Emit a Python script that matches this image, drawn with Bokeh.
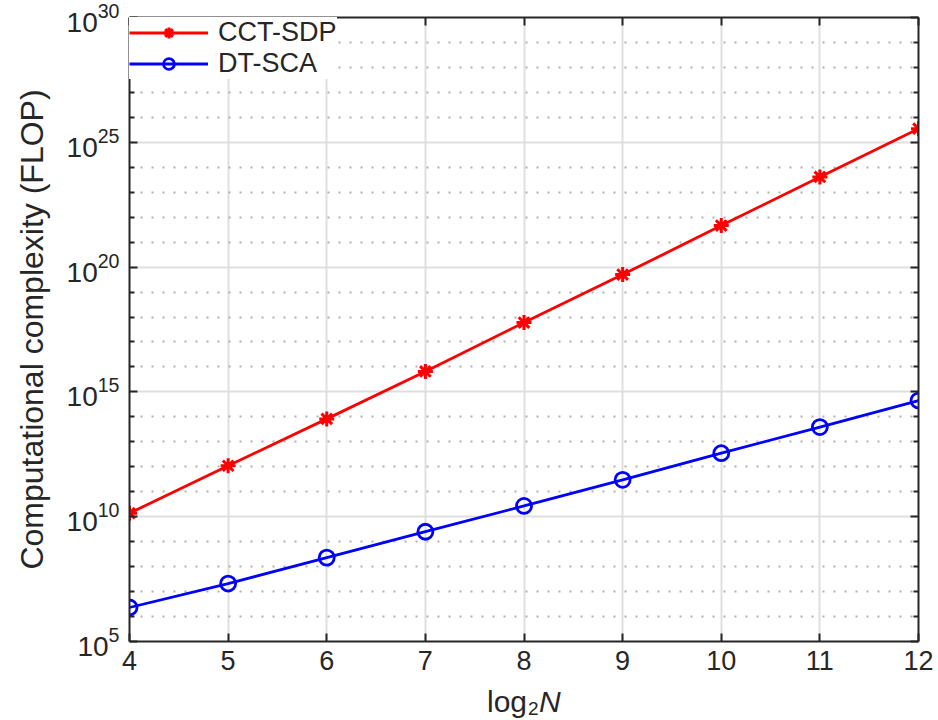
from bokeh.plotting import figure
from bokeh.layouts import column
from bokeh.models import (Range1d, FixedTicker, LogAxis, LinearAxis,
                          LogTickFormatter, CustomJSTickFormatter)
from bokeh.core.properties import value
from bokeh.embed import file_html
from bokeh.resources import INLINE

# ---- data ----
log2N = [4, 5, 6, 7, 8, 9, 10, 11, 12]
cct_sdp = [1.38e10, 1.1e12, 8.3e13, 6.6e15, 6.0e17, 5.0e19, 4.6e21, 4.1e23, 3.5e25]
dt_sca = [2.3e6, 2.1e7, 2.3e8, 2.5e9, 2.7e10, 3.0e11, 3.5e12, 3.9e13, 4.5e14]

x_ticks = [4, 5, 6, 7, 8, 9, 10, 11, 12]
y_major = [1e5, 1e10, 1e15, 1e20, 1e25, 1e30]
y_minor = [1e6, 1e7, 1e8, 1e9, 1e11, 1e12, 1e13, 1e14, 1e16, 1e17, 1e18, 1e19,
           1e21, 1e22, 1e23, 1e24, 1e26, 1e27, 1e28, 1e29]

series_names = ["CCT-SDP", "DT-SCA"]
y_label = "Computational complexity (FLOP)"
x_label_parts = ["log", "2", "N"]

FONT = "Liberation Sans"
TXT = "#262626"

p = figure(width=938, height=684,
           x_range=Range1d(4, 12), y_range=Range1d(1e5, 1e30),
           y_axis_type="log",
           output_backend="svg", toolbar_location=None,
           min_border_left=129, min_border_right=20,
           min_border_top=17, min_border_bottom=43)
p.outline_line_color = None
p.background_fill_color = "white"

xt = FixedTicker(ticks=x_ticks, minor_ticks=[])
yt = FixedTicker(ticks=y_major, minor_ticks=y_minor)


def style_axis(ax):
    ax.axis_line_color = TXT
    ax.axis_line_width = 2
    ax.major_tick_line_color = TXT
    ax.major_tick_line_width = 2
    ax.minor_tick_line_color = TXT
    ax.minor_tick_line_width = 2
    ax.major_tick_in = 8
    ax.major_tick_out = 0
    ax.minor_tick_in = 5
    ax.minor_tick_out = 0
    ax.major_label_text_font = FONT
    ax.major_label_text_color = TXT
    ax.major_label_text_font_size = "27px"
    ax.major_label_standoff = 9


# bottom / left axes
xa = p.xaxis[0]
xa.ticker = xt
style_axis(xa)
ya = p.yaxis[0]
ya.ticker = yt
ya.formatter = LogTickFormatter()
style_axis(ya)
ya.major_label_text_font_size = "28px"
ya.major_label_standoff = 10
ya.axis_label = y_label
ya.axis_label_text_font = FONT
ya.axis_label_text_font_size = "32px"
ya.axis_label_text_font_style = "normal"
ya.axis_label_text_color = TXT
ya.axis_label_standoff = 14

# top / right axes (box, ticks only)
top = LinearAxis(ticker=xt, formatter=CustomJSTickFormatter(code="return ''"))
style_axis(top)
top.major_label_standoff = 0
p.add_layout(top, "above")
right = LogAxis(ticker=yt, formatter=CustomJSTickFormatter(code="return ''"))
style_axis(right)
right.major_label_standoff = 0
p.add_layout(right, "right")

# grids
p.xgrid.ticker = xt
p.ygrid.ticker = yt
for g in (p.xgrid[0], p.ygrid[0]):
    g.grid_line_color = "#dfdfdf"
    g.grid_line_width = 2
p.ygrid.minor_grid_line_color = "#b0b0b0"
p.ygrid.minor_grid_line_width = 2
p.ygrid.minor_grid_line_dash = "2 9"

# series
p.line(log2N, cct_sdp, line_color="#ff0000", line_width=2.8, legend_label=series_names[0])
p.scatter(log2N, cct_sdp, marker="asterisk", size=15, line_color="#ff0000",
          line_width=3, legend_label=series_names[0])
p.line(log2N, dt_sca, line_color="#0000ff", line_width=2.8, legend_label=series_names[1])
p.scatter(log2N, dt_sca, marker="circle", size=15, line_color="#0000ff",
          fill_alpha=0, line_width=2.8, legend_label=series_names[1])

lg = p.legend[0]
lg.location = "top_left"
lg.margin = 0
lg.padding = 0
lg.spacing = -6
lg.border_line_alpha = 0
lg.background_fill_color = "white"
lg.background_fill_alpha = 1
lg.glyph_width = 79
lg.glyph_height = 27
lg.label_height = 27
lg.label_standoff = 10
lg.label_text_font = FONT
lg.label_text_font_size = "27px"
lg.label_text_color = TXT

# ---- x axis title strip: log_2 N (mixed styles) ----
p2 = figure(width=938, height=36, x_range=p.x_range, y_range=Range1d(0, 36),
            output_backend="svg", toolbar_location=None,
            x_axis_location=None, y_axis_location=None,
            min_border_left=129, min_border_right=20,
            min_border_top=0, min_border_bottom=0)
p2.outline_line_color = None
p2.grid.visible = False
mid = x_ticks[len(x_ticks) // 2]
p2.text(x=[mid], y=[19], text=[x_label_parts[0]], x_offset=-37,
        text_font=value(FONT), text_font_size="30px", text_color=TXT,
        text_baseline="alphabetic", text_align="left")
p2.text(x=[mid], y=[12], text=[x_label_parts[1]], x_offset=4,
        text_font=value(FONT), text_font_size="19px", text_color=TXT,
        text_baseline="alphabetic", text_align="left")
p2.text(x=[mid], y=[19], text=[x_label_parts[2]], x_offset=15,
        text_font=value(FONT), text_font_size="30px", text_color=TXT,
        text_font_style="italic",
        text_baseline="alphabetic", text_align="left")

layout = column(p, p2, spacing=0)
open("out.html", "w").write(file_html(layout, INLINE))
